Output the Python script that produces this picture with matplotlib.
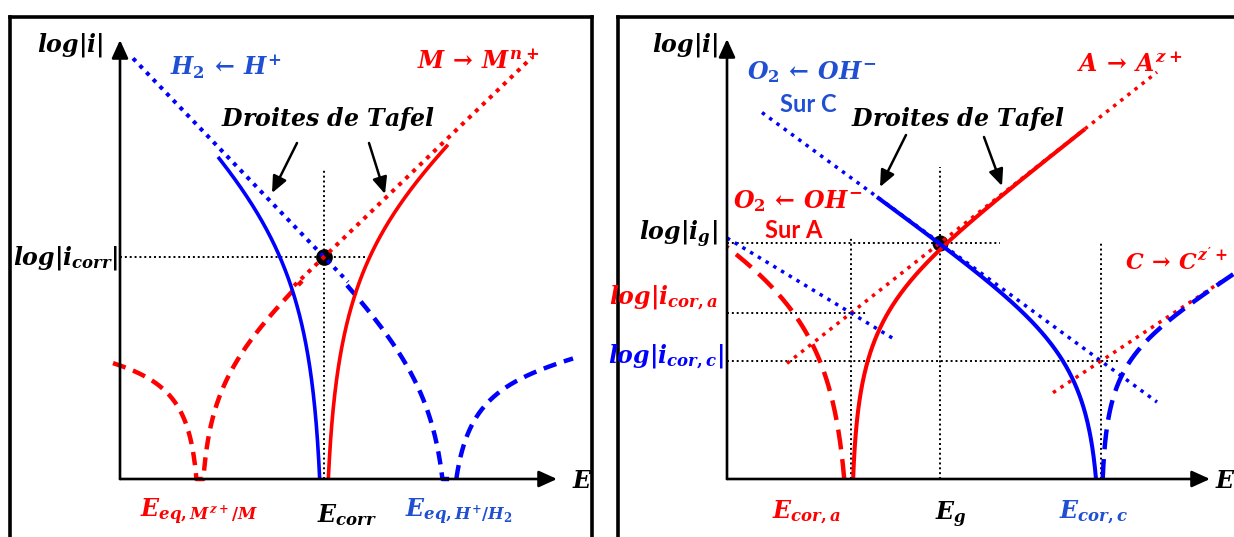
import numpy as np
import matplotlib
matplotlib.use("Agg")
import matplotlib.pyplot as plt

# ---------------------------------------------------------------------------
# Left panel : metal M corroding in acid (M -> M^{z+}  /  H+ -> H2)
# potentials on the E axis, log|i| on the vertical axis (arbitrary units)
E_eq_M, E_corr, E_eq_H = 0.80, 2.04, 3.29
logi_corr = 2.22
tafel_M = [0.96, 0.20]          # anodic / cathodic Tafel slope of M^{z+}/M
tafel_H = [0.25, 1.04]          # anodic / cathodic Tafel slope of H+/H2
soft_mix, soft_M, soft_H = 2.15, 1.0, 1.2

# extents of the drawn segments (E values)
span_tafel_H = [0.13, 2.28]
span_tafel_M = [1.74, 4.12]
span_mix = [0.98, 3.28]         # cathodic end, anodic end of the mixed curve
span_M = [-0.07, 1.82]
span_H = [2.27, 4.53]
guide_left = [3.11, 2.47]       # top of the E_corr guide, end of the i_corr guide

# ---------------------------------------------------------------------------
# Right panel : galvanic couple A / C with oxygen reduction on both
E_cor_a, E_cor_c = 1.24, 3.74
logi_cor_a, logi_cor_c = 1.66, 1.18
tafel_A = [0.787, 0.605]        # A -> A^{z+} ,  O2 reduction on A
tafel_C = [0.66, 0.733]         # C -> C^{z'+},  O2 reduction on C
soft_A_red, soft_A_ox, soft_C_red, soft_C_ox = 1.8, 1.3, 1.3, 0.95

span_tafel_A = [0.60, 4.30]
span_tafel_OA = [0.00, 1.66]
span_tafel_OC = [0.35, 4.30]
span_tafel_Cox = [3.26, 4.98]
span_A_red, span_A_ox = 0.0, 3.58
span_C_red, span_C_ox = 1.50, 5.10
guide_right_g = [3.12, 2.73]
guide_right_a = [2.41, 1.40]
guide_right_c = [2.37, 3.91]

# ---------------------------------------------------------------------------
RED = "#ff0000"
BLUE = "#0000ff"
BLUE_TXT = "#1f4fd2"

plt.rcParams["mathtext.fontset"] = "custom"
plt.rcParams["mathtext.it"] = "DejaVu Serif:italic:bold"
plt.rcParams["mathtext.rm"] = "DejaVu Serif:bold"
plt.rcParams["mathtext.bf"] = "DejaVu Serif:bold"

W, H = 1234, 537
fig = plt.figure(figsize=(W / 100, H / 100), dpi=100)


def panel(left, right, top, bottom, origin, show_right):
    ax = fig.add_axes([left / W, 1 - bottom / H, (right - left) / W, (bottom - top) / H])
    ox, oy = origin
    ax.set_xlim((left - ox) / 100, (right - ox) / 100)
    ax.set_ylim((oy - bottom) / 100, (oy - top) / 100)
    ax.set_xticks([])
    ax.set_yticks([])
    ax.spines["bottom"].set_visible(False)
    ax.spines["right"].set_visible(show_right)
    for s in ax.spines.values():
        s.set_linewidth(2.6)
    return ax


def tafel(E0, L0, slope, span):
    E = np.array(span)
    return E, L0 + slope * (E - E0)


def branch(E0, L0, sa, sc, soft, E_end, n=500):
    """log of the net current of a Butler-Volmer couple, from E0 to E_end."""
    t = np.linspace(0, 1, n)[1:] ** 3
    E = E0 + (E_end - E0) * t
    eta = E - E0
    L = L0 + soft * np.log10(np.abs(10 ** (eta * sa / soft) - 10 ** (-eta * sc / soft)))
    E_zero = np.interp(0.0, L, E)
    keep = L >= 0
    return np.r_[E_zero, E[keep]], np.r_[0.0, L[keep]]


def axes_arrows(ax, x_tip, y_tip):
    style = "-|>,head_length=0.55,head_width=0.25"
    kw = dict(arrowstyle=style, lw=1.9, color="k", mutation_scale=20, shrinkA=0, shrinkB=0)
    ax.annotate("", xy=(0, y_tip), xytext=(0, 0), arrowprops=kw, zorder=5)
    ax.annotate("", xy=(x_tip, 0), xytext=(0, 0), arrowprops=kw, zorder=5)


def pointer(ax, start, end):
    ax.annotate("", xy=end, xytext=start,
                arrowprops=dict(arrowstyle="-|>,head_length=0.5,head_width=0.22",
                                lw=1.8, color="k", mutation_scale=20,
                                shrinkA=0, shrinkB=0), zorder=6)


dot_tafel = dict(lw=2.9, linestyle=(0, (1, 1.4)), zorder=3)
guide = dict(color="k", lw=1.4, linestyle=(0, (1, 1.5)), zorder=1)
FS = 17
SANS = dict(fontsize=17, fontfamily="Lato", fontweight="bold")

# =========================== left panel ====================================
axL = panel(10, 591.5, 16.5, 560, (120, 479), True)
axes_arrows(axL, 4.37, 4.39)

# guides at the corrosion point
axL.plot([E_corr, E_corr], [0, guide_left[0]], **guide)
axL.plot([0, guide_left[1]], [logi_corr, logi_corr], **guide)

# Tafel lines
E, L = tafel(E_corr, logi_corr, -tafel_H[1], span_tafel_H)
axL.plot(E, L, color=BLUE, **dot_tafel)
E, L = tafel(E_corr, logi_corr, tafel_M[0], span_tafel_M)
axL.plot(E, L, color=RED, **dot_tafel)

# mixed (measured) polarisation curve
E, L = branch(E_corr, logi_corr, tafel_M[0], tafel_H[1], soft_mix, span_mix[0])
axL.plot(E, L, color=BLUE, lw=2.6, zorder=4, solid_capstyle="butt")
E, L = branch(E_corr, logi_corr, tafel_M[0], tafel_H[1], soft_mix, span_mix[1])
axL.plot(E, L, color=RED, lw=2.6, zorder=4, solid_capstyle="butt")

# individual couples around their equilibrium potentials
L0_M = logi_corr - tafel_M[0] * (E_corr - E_eq_M)
Ec, Lc = branch(E_eq_M, L0_M, tafel_M[0], tafel_M[1], soft_M, span_M[0])
Ea, La = branch(E_eq_M, L0_M, tafel_M[0], tafel_M[1], soft_M, span_M[1])
axL.plot(np.r_[Ec[::-1], Ea], np.r_[Lc[::-1], La], color=RED, lw=3.2,
         linestyle=(0, (3, 1.8)), zorder=3)

L0_H = logi_corr - tafel_H[1] * (E_eq_H - E_corr)
Ec, Lc = branch(E_eq_H, L0_H, tafel_H[0], tafel_H[1], soft_H, span_H[0])
Ea, La = branch(E_eq_H, L0_H, tafel_H[0], tafel_H[1], soft_H, span_H[1])
axL.plot(np.r_[Ec[::-1], Ea], np.r_[Lc[::-1], La], color=BLUE, lw=3.2,
         linestyle=(0, (3, 1.8)), zorder=3)

axL.plot([E_corr], [logi_corr], "o", color="k", ms=11, zorder=2)

pointer(axL, (1.77, 3.36), (1.52, 2.86))
pointer(axL, (2.49, 3.36), (2.65, 2.85))

axL.text(-0.17, 4.34, r"$log|i|$", fontsize=FS, ha="right", va="center")
axL.text(0.50, 4.12, r"$H_2\,\leftarrow\,H^{+}$", fontsize=FS, color=BLUE_TXT, ha="left", va="center")
axL.text(2.97, 4.17, r"$M\,\rightarrow\,M^{n+}$", fontsize=FS, color=RED, ha="left", va="center")
axL.text(2.08, 3.60, r"$Droites\ de\ Tafel$", fontsize=FS, ha="center", va="center")
axL.text(-0.02, 2.21, r"$log|i_{corr}|$", fontsize=FS, ha="right", va="center")
axL.text(E_eq_M - 0.01, -0.33, r"$E_{eq,M^{z+}/M}$", fontsize=FS, color=RED, ha="center", va="center")
axL.text(1.97, -0.36, r"$E_{corr}$", fontsize=FS, ha="left", va="center")
axL.text(2.85, -0.33, r"$E_{eq,H^{+}/H_2}$", fontsize=FS, color=BLUE_TXT, ha="left", va="center")
axL.text(4.52, -0.02, r"$E$", fontsize=FS, ha="left", va="center")

# =========================== right panel ===================================
axR = panel(618, 1300, 16.5, 560, (727, 479), False)
axes_arrows(axR, 4.83, 4.40)

E_g = (logi_cor_c - logi_cor_a + tafel_A[0] * E_cor_a + tafel_C[1] * E_cor_c) / (tafel_A[0] + tafel_C[1])
logi_g = logi_cor_a + tafel_A[0] * (E_g - E_cor_a)

axR.plot([E_g, E_g], [0, guide_right_g[0]], **guide)
axR.plot([0, guide_right_g[1]], [logi_g, logi_g], **guide)
axR.plot([E_cor_a, E_cor_a], [0, guide_right_a[0]], **guide)
axR.plot([0, guide_right_a[1]], [logi_cor_a, logi_cor_a], **guide)
axR.plot([E_cor_c, E_cor_c], [0, guide_right_c[0]], **guide)
axR.plot([0, guide_right_c[1]], [logi_cor_c, logi_cor_c], **guide)

dot_r = dict(lw=2.5, linestyle=(0, (1, 1.6)), zorder=3)
E, L = tafel(E_cor_a, logi_cor_a, tafel_A[0], span_tafel_A)
axR.plot(E, L, color=RED, **dot_r)
E, L = tafel(E_cor_a, logi_cor_a, -tafel_A[1], span_tafel_OA)
axR.plot(E, L, color=BLUE, **dot_r)
E, L = tafel(E_cor_c, logi_cor_c, -tafel_C[1], span_tafel_OC)
axR.plot(E, L, color=BLUE, **dot_r)
E, L = tafel(E_cor_c, logi_cor_c, tafel_C[0], span_tafel_Cox)
axR.plot(E, L, color=RED, **dot_r)

E, L = branch(E_cor_a, logi_cor_a, tafel_A[0], tafel_A[1], soft_A_ox, span_A_ox)
axR.plot(E, L, color=RED, lw=2.9, zorder=4, solid_capstyle="butt")
E, L = branch(E_cor_c, logi_cor_c, tafel_C[0], tafel_C[1], soft_C_red, span_C_red)
axR.plot(E, L, color=BLUE, lw=2.9, zorder=4, solid_capstyle="butt")
E, L = branch(E_cor_a, logi_cor_a, tafel_A[0], tafel_A[1], soft_A_red, span_A_red)
axR.plot(E, L, color=RED, lw=3.2, linestyle=(0, (4.5, 2.2)), zorder=3)
E, L = branch(E_cor_c, logi_cor_c, tafel_C[0], tafel_C[1], soft_C_ox, span_C_ox)
axR.plot(E, L, color=BLUE, lw=3.2, linestyle=(0, (4.5, 2.2)), zorder=3)

axR.plot([E_g], [logi_g], "o", color="k", ms=10.5, zorder=2)

pointer(axR, (1.79, 3.44), (1.53, 2.92))
pointer(axR, (2.57, 3.42), (2.75, 2.93))

axR.text(-0.09, 4.34, r"$log|i|$", fontsize=FS, ha="right", va="center")
axR.text(0.20, 4.07, r"$O_2\,\leftarrow\,OH^{-}$", fontsize=FS, color=BLUE_TXT, ha="left", va="center")
axR.text(0.53, 3.75, "Sur C", color=BLUE_TXT, ha="left", va="center", **SANS)
axR.text(2.31, 3.60, r"$Droites\ de\ Tafel$", fontsize=FS, ha="center", va="center")
axR.text(0.06, 2.78, r"$O_2\,\leftarrow\,OH^{-}$", fontsize=FS, color=RED, ha="left", va="center")
axR.text(0.38, 2.48, "Sur A", color=RED, ha="left", va="center", **SANS)
axR.text(-0.09, 2.45, r"$log|i_g|$", fontsize=FS, ha="right", va="center")
axR.text(3.50, 4.14, r"$A\,\rightarrow\,A^{z+}$", fontsize=FS, color=RED, ha="left", va="center")
axR.text(3.98, 2.18, r"$C\,\rightarrow\,C^{z'+}$", fontsize=16, color=RED, ha="left", va="center")
axR.text(-0.09, 1.81, r"$log|i_{cor,a}$", fontsize=FS, color=RED, ha="right", va="center")
axR.text(-0.03, 1.22, r"$log|i_{cor,c}|$", fontsize=FS, color=BLUE, ha="right", va="center")
axR.text(0.45, -0.33, r"$E_{cor,a}$", fontsize=FS, color=RED, ha="left", va="center")
axR.text(2.08, -0.36, r"$E_g$", fontsize=FS, ha="left", va="center")
axR.text(3.32, -0.33, r"$E_{cor,c}$", fontsize=FS, color=BLUE_TXT, ha="left", va="center")
axR.text(4.88, -0.02, r"$E$", fontsize=FS, ha="left", va="center")

fig.savefig("out.png", dpi=100)
